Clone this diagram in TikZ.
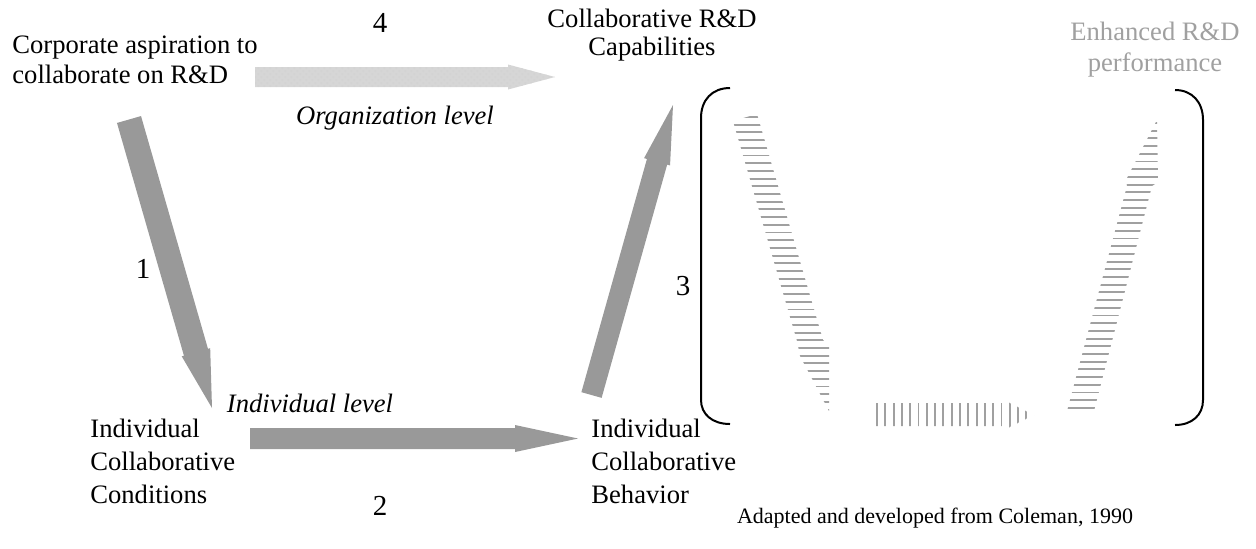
\documentclass[tikz,border=0pt]{standalone}
\usepackage{fontspec}
\setmainfont{Liberation Serif}
\usetikzlibrary{calc,patterns}
\definecolor{arrowgray}{HTML}{999999}
\definecolor{hatchgray}{HTML}{A0A0A0}
\definecolor{orggray}{HTML}{D6D6D6}
\definecolor{perfgray}{HTML}{A0A0A0}
\tikzset{
  lbl/.style={inner sep=0pt, font=\fontsize{13.3}{16}\selectfont},
  num/.style={inner sep=0pt, font=\fontsize{14.5}{16}\selectfont, anchor=base},
  fatgray/.style={fill=arrowgray},
  orgarrow/.style={fill=orggray, postaction={pattern=crosshatch dots, pattern color=gray!35}},
  hatch/.style={draw=hatchgray, line width=0.95pt},
  bracket/.style={draw=black, line width=1pt},
}
% #1 style, #2 tail, #3 tip, #4 shaft half width, #5 head half width, #6 head length, #7 base name
\newcommand\fatarrow[7]{%
  \coordinate (#7) at ($(#3)!#6!(#2)$);
  \fill[#1] ($(#2)!#4!90:(#3)$) -- ($(#7)!#4!-90:(#2)$) -- ($(#7)!#5!-90:(#2)$) -- (#3)
    -- ($(#7)!#5!90:(#2)$) -- ($(#7)!#4!90:(#2)$) -- ($(#2)!#4!-90:(#3)$) -- cycle;}
\begin{document}
\begin{tikzpicture}[x=0.5pt,y=-0.5pt]
\useasboundingbox (0,0) rectangle (1256,548);
% text (base anchor = last line baseline)
\node[lbl, font=\fontsize{13.3}{15}\selectfont, anchor=base west, align=left] (corp) at (12,83) {Corporate aspiration to\\collaborate on R\&D};
\node[num] (n4) at (380,32) {4};
\node[lbl, font=\fontsize{13.3}{14}\selectfont, anchor=base, align=center] (cap) at (652,55) {Collaborative R\&D\\Capabilities};
\node[lbl, font=\fontsize{13.3}{15.5}\selectfont, anchor=base, align=center, text=perfgray] (perf) at (1155,71) {Enhanced R\&D\\performance};
\node[lbl, font=\fontsize{13.3}{16}\selectfont\itshape, anchor=base] (org) at (395,124) {Organization level};
\node[num] (n1) at (143,278) {1};
\node[num] (n3) at (683,295) {3};
\node[num] (n2) at (380,515) {2};
\node[lbl, font=\fontsize{13.3}{16}\selectfont\itshape, anchor=base] (indl) at (310,412) {Individual level};
\node[lbl, font=\fontsize{13.3}{16.5}\selectfont, anchor=base west, align=left] (cond) at (90,503) {Individual\\Collaborative\\Conditions};
\node[lbl, font=\fontsize{13.3}{16.5}\selectfont, anchor=base west, align=left] (beh) at (591,503) {Individual\\Collaborative\\Behavior};
\node[lbl, font=\fontsize{11}{13}\selectfont, anchor=base] (src) at (935,523) {Adapted and developed from Coleman, 1990};
% arrow end points
\coordinate (a1t) at (129,119.5);
\coordinate (a1h) at (212,408);
\coordinate (a2t) at (250,438.5);
\coordinate (a2h) at (578,438.5);
\coordinate (a3t) at (591.5,395);
\coordinate (a3h) at (673,105);
\coordinate (a4t) at (255,77);
\coordinate (a4h) at (555,77);
\fatarrow{fatgray}{a1t}{a1h}{6.25pt}{7.4pt}{29pt}{a1b}
\fatarrow{fatgray}{a2t}{a2h}{5.25pt}{6.75pt}{31.5pt}{a2b}
\fatarrow{fatgray}{a3t}{a3h}{5.25pt}{6.75pt}{29.5pt}{a3b}
\fatarrow{orgarrow}{a4t}{a4h}{5pt}{6.25pt}{23.5pt}{a4b}
% brackets
\draw[bracket] (730,88) .. controls (712,88) and (701,100) .. (701,118) -- (701,400) .. controls (701,414) and (712,424) .. (730,424);
\draw[bracket] (1175,90) .. controls (1192,90) and (1203,102) .. (1203,120) -- (1203,400) .. controls (1203,415) and (1192,425) .. (1175,425);
% hatched arrows
\begin{scope}
\clip (757,114) -- (823,340) -- (829,346) -- (829,411) -- (800,356) -- (797,341) -- (733,121) -- cycle;
\foreach \y in {117,124.7,...,412} \draw[hatch] (720,\y) -- (840,\y);
\end{scope}
\begin{scope}
\clip (1157,120) -- (1158,182) -- (1152,186) -- (1094,411) -- (1067,411) -- (1127,186) -- (1126,180) -- cycle;
\foreach \y in {123,130.7,...,412} \draw[hatch] (1060,\y) -- (1165,\y);
\end{scope}
\begin{scope}
\clip (875,403) -- (1006,403) -- (1006,401) -- (1034,415) -- (1006,429) -- (1006,426) -- (875,426) -- cycle;
\foreach \x in {877,885.3,...,1036} \draw[hatch] (\x,395) -- (\x,435);
\end{scope}
\end{tikzpicture}
\end{document}
